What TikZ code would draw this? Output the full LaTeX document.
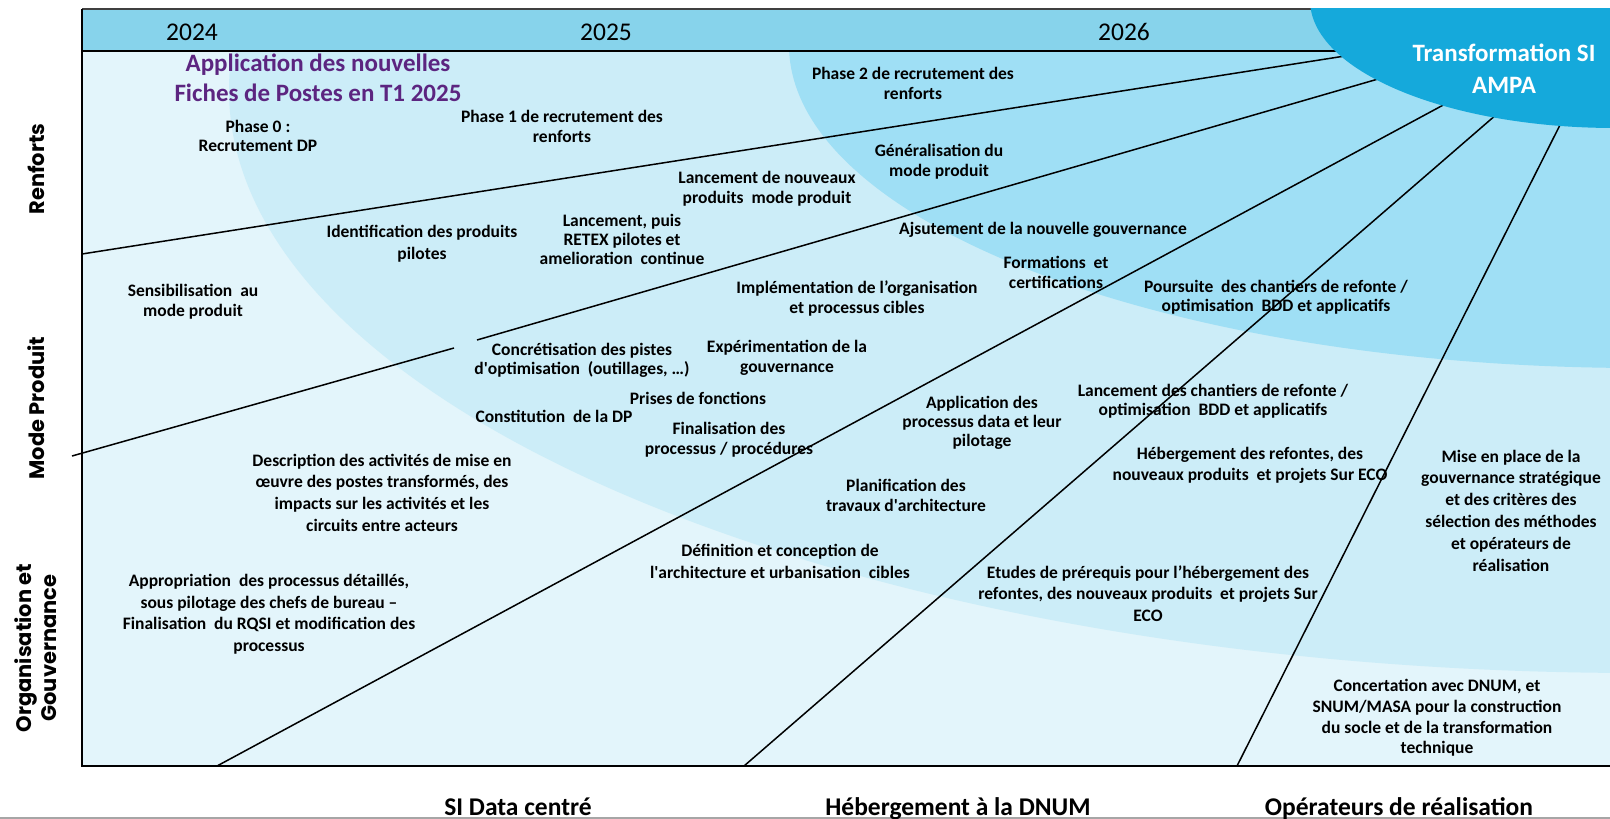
\documentclass[tikz,border=0pt]{standalone}
\usepackage{fontspec}
\setmainfont{Carlito}
\newfontfamily\rowfont{Poppins}
\definecolor{paleA}{HTML}{E3F5FB}
\definecolor{regB}{HTML}{CCEDF8}
\definecolor{regC}{HTML}{9FDFF5}
\definecolor{ellD}{HTML}{15A9DB}
\definecolor{headcol}{HTML}{87D3EB}
\definecolor{titlepurple}{HTML}{5C2580}
\begin{document}
\begin{tikzpicture}[x=1pt,y=-1pt,
  txt/.style={font=\bfseries\fontsize{17.5}{20}\selectfont, align=center, inner sep=0pt, text=black},
  txtw/.style={font=\bfseries\fontsize{17.5}{21.5}\selectfont, align=center, inner sep=0pt, text=black},
  txtn/.style={font=\bfseries\fontsize{17.5}{19}\selectfont, align=center, inner sep=0pt, text=black},
  year/.style={font=\fontsize{25.5}{28}\selectfont, inner sep=0pt},
  rowtitle/.style={font=\rowfont\bfseries\fontsize{21}{25}\selectfont, align=center, inner sep=0pt, rotate=90},
  axis/.style={font=\bfseries\fontsize{25.5}{28}\selectfont, inner sep=0pt, anchor=base},
  ray/.style={draw=black, line width=1.5pt},
  frame/.style={draw=black, line width=1.6pt}]
\useasboundingbox (0,0) rectangle (1610,819);
% background regions
\begin{scope}
  \clip (82,51) rectangle (1610,766);
  \fill[paleA] (82,51) rectangle (1610,766);
  \fill[regB] (1640,90) ellipse [x radius=1411, y radius=583];
  \fill[regC] (1640,45) ellipse [x radius=851, y radius=323];
\end{scope}
% header band
\fill[headcol] (82,9) rectangle (1610,51);
\draw[draw=black!75, line width=1.6pt] (82,9) -- (1610,9);
\draw[frame] (82,51) -- (1610,51);
\draw[frame] (82,9) -- (82,766) -- (1610,766);
% rays
\coordinate (l1a) at (82,254);   \coordinate (l1b) at (1345,56);
\coordinate (l2a) at (72,456);   \coordinate (l2b) at (454,348);
\coordinate (l2c) at (477,340);  \coordinate (l2d) at (1385,77);
\coordinate (l3a) at (217,766);  \coordinate (l3b) at (1447,103);
\coordinate (l4a) at (744,766);  \coordinate (l4b) at (1497,114);
\coordinate (l5a) at (1237,766); \coordinate (l5b) at (1561,123);
\draw[ray] (l1a) -- (l1b);
\draw[ray] (l2a) -- (l2b);
\draw[ray] (l2c) -- (l2d);
\draw[ray] (l3a) -- (l3b);
\draw[ray] (l4a) -- (l4b);
\draw[ray] (l5a) -- (l5b);
% transformation ellipse
\begin{scope}
  \clip (82,8) rectangle (1610,766);
  \fill[ellD] (1615,0) ellipse [x radius=305, y radius=128];
\end{scope}
\node[font=\bfseries\fontsize{25}{32}\selectfont, text=white, align=center, inner sep=0pt] (transfo) at (1504,69) {Transformation SI\\AMPA};
% bottom rule
\draw[draw=black!35, line width=2pt] (0,818) -- (1610,818);
% years
\node[year] (y2024) at (192,32) {2024};
\node[year] (y2025) at (606,32) {2025};
\node[year] (y2026) at (1124,32) {2026};
% row titles
\node[rowtitle] (rRenf) at (36,169) {Renforts};
\node[rowtitle] (rMode) at (36,408) {Mode Produit};
\node[rowtitle] (rOrga) at (36,648) {Organisation et\\Gouvernance};
% axis labels
\node[axis] (aSI) at (518,815) {SI Data centré};
\node[axis] (aHeb) at (958,815) {Hébergement à la DNUM};
\node[axis] (aOp) at (1399,815) {Opérateurs de réalisation};
% title
\node[font=\bfseries\fontsize{25}{30}\selectfont, text=titlepurple, align=center, inner sep=0pt] (fiches) at (318,78) {Application des nouvelles\\Fiches de Postes en T1 2025};
% texts
\node[txtn] (phase0) at (258,135.5) {Phase 0 :\\Recrutement DP};
\node[txt] (phase1) at (562,126) {Phase 1 de recrutement des\\renforts};
\node[txt] (phase2) at (913,83) {Phase 2 de recrutement des\\renforts};
\node[txt] (gener) at (939,162) {Généralisation du\\mode produit};
\node[txt] (lancnouv) at (767,189) {Lancement de nouveaux\\produits\ \ mode produit};
\node[txtw] (ident) at (422,243.5) {Identification des produits\\pilotes};
\node[txtn] (lancpuis) at (622,239) {Lancement, puis\\RETEX pilotes et\\amelioration\ \ continue};
\node[txt] (ajust) at (1043,230) {Ajsutement de la nouvelle gouvernance};
\node[txt] (form) at (1056,272) {Formations\ \ et\\certifications};
\node[txt] (sensib) at (193,302) {Sensibilisation\ \ au\\mode produit};
\node[txt] (implem) at (857,299) {Implémentation de l’organisation\\et processus cibles};
\node[txtn] (concret) at (582,360.5) {Concrétisation des pistes\\d\textquotesingle optimisation\ \ (outillages, …)};
\node[txt] (experim) at (787,358) {Expérimentation de la\\gouvernance};
\node[txt] (prises) at (698,398) {Prises de fonctions};
\node[txt] (constit) at (554,416) {Constitution\ \ de la DP};
\node[txt] (final) at (729,440) {Finalisation des\\processus / procédures};
\node[txtn] (applic) at (982,422.5) {Application des\\processus data et leur\\pilotage};
\node[txtn] (lancch) at (1213,401.5) {Lancement des chantiers de refonte /\\optimisation\ \ BDD et applicatifs};
\node[txtn] (poursuite) at (1276,297.5) {Poursuite\ \ des chantiers de refonte /\\optimisation\ \ BDD et applicatifs};
\node[txtw] (heberg) at (1250,465.5) {Hébergement des refontes, des\\nouveaux produits\ \ et projets Sur ECO};
\node[font=\bfseries\fontsize{17.5}{21.8}\selectfont, align=center, inner sep=0pt] (misepl) at (1511,510.5) {Mise en place de la\\gouvernance stratégique\\et des critères des\\sélection des méthodes\\et opérateurs de\\réalisation};
\node[font=\bfseries\fontsize{17.5}{21.7}\selectfont, align=center, inner sep=0pt] (descr) at (382,492.5) {Description des activités de mise en\\œuvre des postes transformés, des\\impacts sur les activités et les\\circuits entre acteurs};
\node[txtw] (approp) at (269,614) {Appropriation\ \ des processus détaillés,\\sous pilotage des chefs de bureau –\\Finalisation\ \ du RQSI et modification des\\processus};
\node[txtw] (defin) at (780,561.5) {Définition et conception de\\l\textquotesingle architecture et urbanisation\ \ cibles};
\node[txt] (planif) at (906,495) {Planification des\\travaux d\textquotesingle architecture};
\node[txtw] (etudes) at (1148,593.5) {Etudes de prérequis pour l’hébergement des\\refontes, des nouveaux produits\ \ et projets Sur\\ECO};
\node[font=\bfseries\fontsize{17.5}{20.7}\selectfont, align=center, inner sep=0pt] (concert) at (1437,718) {Concertation avec DNUM, et\\SNUM/MASA pour la construction\\du socle et de la transformation\\technique};
\end{tikzpicture}
\end{document}
